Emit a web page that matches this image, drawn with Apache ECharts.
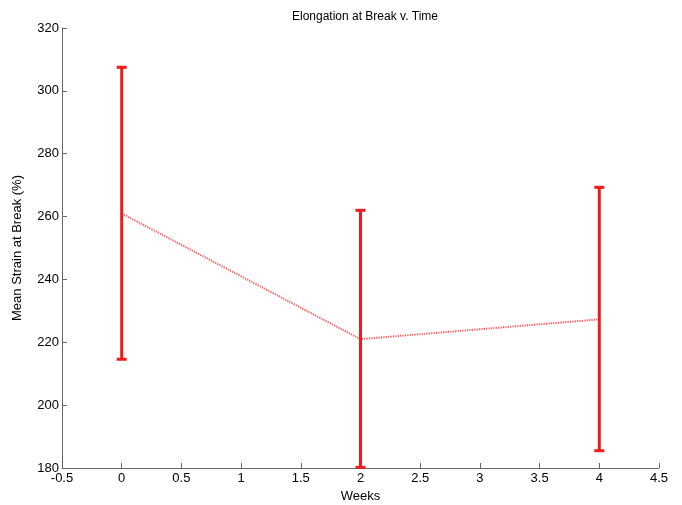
<!DOCTYPE html>
<html><head><meta charset="utf-8">
<script src="https://cdn.jsdelivr.net/npm/echarts@6/dist/echarts.min.js"></script>
<style>html,body{margin:0;padding:0;background:#fff}#c{width:682px;height:505px}</style>
</head><body><div id="c"></div>
<script>
const weeks = [0, 2, 4];
const meanStrain = [261, 221, 227.3];
const upperStrain = [307.5, 262, 269.3];
const lowerStrain = [214.6, 180.2, 185.5];
const xTicks = [-0.5, 0, 0.5, 1, 1.5, 2, 2.5, 3, 3.5, 4, 4.5];
const yTicks = [180, 200, 220, 240, 260, 280, 300, 320];

const chart = echarts.init(document.getElementById('c'));
const font = 'Liberation Sans, Arial, sans-serif';
chart.setOption({
  animation: false,
  backgroundColor: '#fff',
  title: { text: 'Elongation at Break v. Time', left: 360, top: 6, textAlign: 'center',
    textStyle: { fontFamily: font, fontSize: 12, fontWeight: 'normal', color: '#000' } },
  grid: { left: 62, right: 23, top: 28, bottom: 37, containLabel: false, outerBoundsMode: 'none' },
  xAxis: { type: 'value', min: xTicks[0], max: xTicks[xTicks.length-1], interval: 0.5,
    name: 'Weeks', nameLocation: 'middle', nameGap: 22,
    nameTextStyle: { fontFamily: font, fontSize: 13, color: '#000' },
    axisLine: { onZero: false, lineStyle: { color: '#666', width: 1 } },
    axisTick: { inside: true, length: 5, lineStyle: { color: '#666' } },
    axisLabel: { fontFamily: font, fontSize: 13, color: '#000', margin: 4 },
    splitLine: { show: false } },
  yAxis: { type: 'value', min: yTicks[0], max: yTicks[yTicks.length-1], interval: 20,
    name: 'Mean Strain at Break (%)', nameLocation: 'middle', nameGap: 38, nameRotate: 90,
    nameTextStyle: { fontFamily: font, fontSize: 13, color: '#000' },
    axisLine: { show: true, onZero: false, lineStyle: { color: '#666', width: 1 } },
    axisTick: { show: true, inside: true, length: 5, lineStyle: { color: '#666' } },
    axisLabel: { fontFamily: font, fontSize: 13, color: '#000', margin: 3 },
    splitLine: { show: false } },
  series: [
    { type: 'line', data: weeks.map((w,i)=>[w, meanStrain[i]]), symbol: 'none',
      lineStyle: { color: '#f55', width: 2, type: [1.2, 1.2] }, z: 2 },
    { type: 'custom', z: 3,
      data: weeks.map((w,i)=>[w, lowerStrain[i], upperStrain[i]]),
      renderItem: function(params, api) {
        const x = api.value(0);
        const lo = api.coord([x, api.value(1)]);
        const hi = api.coord([x, api.value(2)]);
        const hw = 5;
        const st = { stroke: '#ee1c1c', lineWidth: 3 };
        return { type: 'group', children: [
          { type: 'line', shape: { x1: hi[0], y1: hi[1], x2: lo[0], y2: lo[1] }, style: st },
          { type: 'line', shape: { x1: hi[0]-hw, y1: hi[1], x2: hi[0]+hw, y2: hi[1] }, style: st },
          { type: 'line', shape: { x1: lo[0]-hw, y1: lo[1], x2: lo[0]+hw, y2: lo[1] }, style: st }
        ]};
      } }
  ]
});
</script></body></html>
